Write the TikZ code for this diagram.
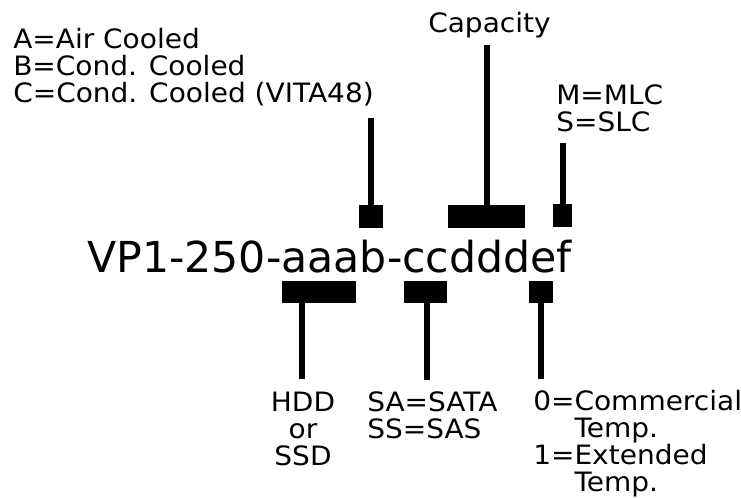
\documentclass[tikz,border=0pt]{standalone}
\usepackage{fontspec}
\setmainfont{DejaVu Sans}
\newfontfamily\lblfont[FakeStretch=1.05]{DejaVu Sans}
\usepackage{xcolor}
\usepackage{tikz}
\definecolor{CodeInk}{HTML}{000000}

\begin{document}
\begin{tikzpicture}[x=0.75pt,y=-0.75pt,
  keyblk/.style={fill=CodeInk,inner sep=0pt,outer sep=0pt},
  stem/.style={CodeInk,line width=4.5pt},
  lbl/.style={CodeInk,inner sep=0pt,font=\lblfont\fontsize{20}{20.25}\selectfont}]
  \useasboundingbox (0,0) rectangle (741,497);
  \node[CodeInk,anchor=base west,inner sep=0pt,font=\fontsize{32}{32}\selectfont]
    (code) at (87,272.5) {VP1-250-aaab-ccdddef};
  \node[keyblk,minimum width=18pt,minimum height=17.25pt] (keyB) at (371,216.5) {};
  \node[keyblk,minimum width=57.75pt,minimum height=17.25pt] (keyD) at (486.5,216.5) {};
  \node[keyblk,minimum width=14.25pt,minimum height=17.25pt] (keyF) at (562.5,215.5) {};
  \node[keyblk,minimum width=55.5pt,minimum height=16.5pt] (keyA) at (319,291.5) {};
  \node[keyblk,minimum width=32.25pt,minimum height=16.5pt] (keyC) at (425.5,291.5) {};
  \node[keyblk,minimum width=18pt,minimum height=16.5pt] (keyE) at (541,291.5) {};
  \coordinate (topB) at (371,118);
  \coordinate (topD) at (486.5,45);
  \coordinate (topF) at (562.5,143);
  \coordinate (botA) at (301.5,379);
  \coordinate (botC) at (426.5,380);
  \coordinate (botE) at (540.5,379);
  \draw[stem] (keyB.north) -- (topB);
  \draw[stem] (keyD.north) -- (topD);
  \draw[stem] (keyF.north) -- (topF);
  \draw[stem] (keyA.south -| botA) -- (botA);
  \draw[stem] (keyC.south -| botC) -- (botC);
  \draw[stem] (keyE.south -| botE) -- (botE);
  \node[lbl,anchor=base west,align=left] (cooling) at (13,102)
    {A=Air Cooled\\B=Cond. Cooled\\C=Cond. Cooled (VITA48)};
  \node[lbl,anchor=base west] (capacity) at (428,32) {Capacity};
  \node[lbl,anchor=base west,align=left] (cell) at (556,131) {M=MLC\\S=SLC};
  \node[lbl,anchor=base,align=center] (drive) at (303,465) {HDD\\or\\SSD};
  \node[lbl,anchor=base west,align=left] (iface) at (367,438) {SA=SATA\\SS=SAS};
  \node[lbl,anchor=base west,align=left] (temp) at (533,491)
    {0=Commercial\\\hphantom{0=}Temp.\\1=Extended\\\hphantom{1=}Temp.};
\end{tikzpicture}
\end{document}
